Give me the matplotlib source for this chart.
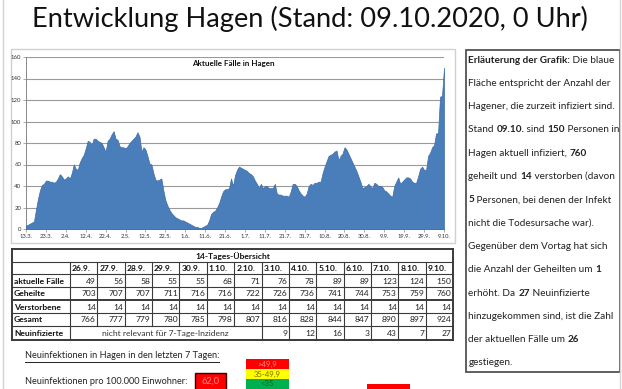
import matplotlib
matplotlib.use("Agg")
import matplotlib.pyplot as plt
from matplotlib.patches import Rectangle
import numpy as np

W, H, DPI = 622, 389, 100
FONT = "Lato"

# ---------------- data ----------------
tick_labels = ["13.3.", "23.3.", "2.4.", "12.4.", "22.4.", "2.5.", "12.5.", "22.5.",
               "1.6.", "11.6.", "21.6.", "1.7.", "11.7.", "21.7.", "31.7.", "10.8.",
               "20.8.", "30.8.", "9.9.", "19.9.", "29.9.", "9.10."]
y_ticks = [0, 20, 40, 60, 80, 100, 120, 140, 160]

# active cases from 13.3. up to 25.9.
cases_before = [3, 4, 5, 6, 7, 18, 28, 36, 41, 42,
                45, 45, 44, 44, 43, 44, 47, 51, 49, 46,
                47, 49, 47, 52, 60, 56, 55, 62, 66, 69,
                75, 82, 81, 78, 84, 84, 82, 81, 80, 76,
                72, 82, 84, 88, 91, 84, 83, 77, 76, 76,
                75, 77, 80, 82, 84, 86, 90, 86, 72, 76,
                74, 68, 61, 60, 52, 46, 45, 46, 47, 36,
                27, 22, 18, 15, 13, 11, 10, 9, 8, 8,
                7, 6, 5, 4, 3, 2, 2, 1, 1, 2,
                3, 4, 8, 14, 16, 17, 20, 24, 30, 35,
                37, 37, 38, 47, 40, 50, 55, 58, 57, 56,
                55, 54, 52, 51, 49, 45, 42, 38, 42, 38,
                40, 40, 38, 38, 38, 42, 33, 32, 32, 31,
                31, 31, 30, 35, 42, 42, 40, 36, 33, 31,
                30, 33, 40, 42, 41, 43, 43, 44, 44, 52,
                58, 63, 68, 69, 70, 72, 73, 64, 68, 70,
                76, 74, 70, 66, 62, 58, 54, 49, 44, 38,
                39, 40, 42, 40, 38, 43, 42, 40, 40, 39,
                36, 35, 33, 31, 30, 40, 44, 48, 42, 44,
                46, 48, 48, 47, 44, 43, 43]

dates = ["26.9.", "27.9.", "28.9.", "29.9.", "30.9.", "1.10.", "2.10.",
         "3.10.", "4.10.", "5.10.", "6.10.", "7.10.", "8.10.", "9.10."]
aktuelle = [49, 56, 58, 55, 55, 68, 71, 76, 78, 89, 89, 123, 124, 150]
geheilte = [703, 707, 707, 711, 716, 716, 722, 726, 736, 741, 744, 753, 759, 760]
verstorbene = [14, 14, 14, 14, 14, 14, 14, 14, 14, 14, 14, 14, 14, 14]
gesamt = [766, 777, 779, 780, 785, 798, 807, 816, 828, 844, 847, 890, 897, 924]
neuinfizierte = [None, None, None, None, None, None, None, 9, 12, 16, 3, 43, 7, 27]
row_labels = ["aktuelle Fälle", "Geheilte", "Verstorbene", "Gesamt", "Neuinfizierte"]
inzidenz = 62.0
legend_labels = [">49,9", "35-49,9", "<35"]

cases = cases_before + aktuelle

# ---------------- figure ----------------
plt.rcParams["font.family"] = [FONT, "DejaVu Sans"]
fig = plt.figure(figsize=(W / DPI, H / DPI), dpi=DPI)
fig.patch.set_facecolor("white")

ov = fig.add_axes([0, 0, 1, 1], zorder=0)
ov.set_xlim(0, W)
ov.set_ylim(H, 0)
ov.axis("off")

# page frame lines
ov.plot([3, 3], [0, H], color="#d4d4d4", lw=1.0)
ov.plot([619.5, 619.5], [0, H], color="#d4d4d4", lw=1.0)

# title
ov.text(310, 19, "Entwicklung Hagen (Stand: 09.10.2020, 0 Uhr)", fontsize=19.6,
        fontweight="normal", ha="center", va="center", color="#111111")

# chart frame
ov.add_patch(Rectangle((11, 49), 444, 194, facecolor="white", edgecolor="#d0d0d0", lw=1.0))

# ---------------- area chart ----------------
L, R, T, B = 26, 444, 57, 229
ax = fig.add_axes([L / W, 1 - B / H, (R - L) / W, (B - T) / H], zorder=2)
ax.set_facecolor("white")
x = np.arange(len(cases))
ax.fill_between(x, cases, 0, color="#4a7ebb", edgecolor="#3d6ca6", lw=0.5, zorder=3)
ax.set_xlim(0, len(cases) - 1)
ax.set_ylim(0, 160)
ax.set_yticks(y_ticks)
ax.set_yticklabels([str(v) for v in y_ticks], fontsize=4.3, color="#333333")
ax.set_xticks(np.arange(0, len(cases), 10))
ax.set_xticklabels(tick_labels, fontsize=4.2, color="#333333")
ax.tick_params(axis="both", length=2, width=0.5, color="#888888", pad=1.5)
ax.grid(axis="y", color="#9a9a9a", lw=0.8, zorder=1)
ax.set_axisbelow(True)
for s in ["top", "right"]:
    ax.spines[s].set_visible(False)
for s in ["left", "bottom"]:
    ax.spines[s].set_color("#888888")
    ax.spines[s].set_linewidth(0.7)
ax.text(0.495, 0.965, "Aktuelle Fälle in Hagen", transform=ax.transAxes, fontsize=5.8,
        fontweight="bold", ha="center", va="center", color="#111111", zorder=5)

# ---------------- helpers ----------------
renderer = fig.canvas.get_renderer()


def text_w(txt, size, bold):
    def w(s):
        t = ov.text(0, 0, s, fontsize=size, fontweight="bold" if bold else "normal")
        bb = t.get_window_extent(renderer=renderer)
        t.remove()
        return bb.width
    return w(txt + "l") - w("l")


def rich_line(x0, y0, segments, size, color="#222222"):
    cx = x0
    for txt, bold in segments:
        ov.text(cx, y0, txt, fontsize=size, fontweight="bold" if bold else "normal",
                ha="left", va="center", color=color)
        cx += text_w(txt, size, bold)
    return cx


# ---------------- explanation box ----------------
ov.add_patch(Rectangle((466, 50), 154, 322, facecolor="white", edgecolor="#444444", lw=1.2))
N, Bd = False, True
lines = [
    [("Erläuterung der Grafik:", Bd), (" Die blaue", N)],
    [("Fläche entspricht der Anzahl der", N)],
    [("Hagener, die zurzeit infiziert sind.", N)],
    [("Stand ", N), ("09.10.", Bd), (" sind ", N), (str(aktuelle[-1]), Bd), (" Personen in", N)],
    [("Hagen aktuell infiziert, ", N), (str(geheilte[-1]), Bd)],
    [("geheilt und ", N), (str(verstorbene[-1]), Bd), (" verstorben (davon", N)],
    [("5", Bd), (" Personen, bei denen der Infekt", N)],
    [("nicht die Todesursache war).", N)],
    [("Gegenüber dem Vortag hat sich", N)],
    [("die Anzahl der Geheilten um ", N), (str(geheilte[-1] - geheilte[-2]), Bd)],
    [("erhöht. Da ", N), (str(neuinfizierte[-1]), Bd), (" Neuinfizierte", N)],
    [("hinzugekommen sind, ist die Zahl", N)],
    [("der aktuellen Fälle um ", N), (str(aktuelle[-1] - aktuelle[-2]), Bd)],
    [("gestiegen.", N)],
]
for k, segs in enumerate(lines):
    rich_line(468.5, 60 + 23.3 * k, segs, 7.2)

# ---------------- table ----------------
tL, tLab, tR = 12, 70, 453
cw = (tR - tLab) / len(dates)
rows_y = [249, 262, 274, 287, 300, 313, 326, 340]
lc = "#3a3a3a"
fs = 6.1
for i, yy in enumerate(rows_y):
    lw = 1.4 if i in (0, 4, 7) else 0.8
    ov.plot([tL, tR], [yy, yy], color=lc, lw=lw)
ov.plot([tL, tL], [rows_y[0], rows_y[-1]], color=lc, lw=1.4)
ov.plot([tR, tR], [rows_y[0], rows_y[-1]], color=lc, lw=1.4)
ov.plot([tLab, tLab], [rows_y[1], rows_y[-1]], color=lc, lw=0.8)
for j in range(1, len(dates)):
    xx = tLab + j * cw
    y_end = rows_y[-1] if j >= 7 else rows_y[-2]
    ov.plot([xx, xx], [rows_y[1], y_end], color=lc, lw=0.8)

ov.text((tL + tR) / 2, (rows_y[0] + rows_y[1]) / 2 + 0.5, "14-Tages-Übersicht", fontsize=fs,
        fontweight="bold", ha="center", va="center", color="#111111")
for j, d in enumerate(dates):
    ov.text(tLab + j * cw + 2, (rows_y[1] + rows_y[2]) / 2 + 0.5, d, fontsize=fs,
            fontweight="bold", ha="left", va="center", color="#111111")
table_rows = [aktuelle, geheilte, verstorbene, gesamt, neuinfizierte]
for r, (lab, vals) in enumerate(zip(row_labels, table_rows)):
    yc = (rows_y[r + 2] + rows_y[r + 3]) / 2 + 0.5
    ov.text(tL + 2, yc, lab, fontsize=fs, fontweight="bold", ha="left", va="center", color="#111111")
    for j, v in enumerate(vals):
        if v is None:
            continue
        ov.text(tLab + (j + 1) * cw - 1.5, yc, str(v), fontsize=fs, ha="right", va="center",
                color="#222222")
ov.text(tLab + 3.5 * cw, (rows_y[6] + rows_y[7]) / 2 + 0.5, "nicht relevant für 7-Tage-Inzidenz",
        fontsize=fs, ha="center", va="center", color="#333333")

# ---------------- bottom notes ----------------
fs2 = 6.6
t1 = "Neuinfektionen in Hagen in den letzten 7 Tagen:"
ov.text(25, 356, t1, fontsize=fs2, ha="left", va="center", color="#222222")
ov.plot([25, 25 + text_w(t1, fs2, False)], [361.5, 361.5], color="#222222", lw=0.7)
ov.text(25, 381, "Neuinfektionen pro 100.000 Einwohner:", fontsize=fs2, ha="left", va="center",
        color="#222222")
ov.add_patch(Rectangle((195, 373), 31, 18, facecolor="#ff0000", edgecolor="#3a0000", lw=1.0))
ov.text(210.5, 381.5, f"{inzidenz:.1f}".replace(".", ","), fontsize=fs2, ha="center", va="center",
        color="#ff8a8a")

leg_colors = ["#ff0000", "#ffff00", "#00b050"]
leg_text_colors = ["#ff8a8a", "#7a6a00", "#0a5a20"]
for k, (lab, fc, tc) in enumerate(zip(legend_labels, leg_colors, leg_text_colors)):
    y0 = 359 + 10 * k
    ov.add_patch(Rectangle((246, y0), 43, 10, facecolor=fc, edgecolor="none"))
    ov.text(267.5, y0 + 5, lab, fontsize=5.6, ha="center", va="center", color=tc)
ov.add_patch(Rectangle((367, 384), 43, 10, facecolor="#ff0000", edgecolor="none"))

fig.savefig("out.png", dpi=DPI, facecolor="white")
